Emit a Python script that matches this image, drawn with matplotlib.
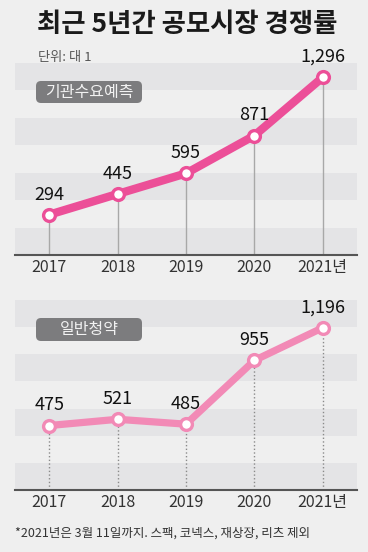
import matplotlib
matplotlib.use("Agg")
import matplotlib.pyplot as plt
from matplotlib.patches import FancyBboxPatch

plt.rcParams['font.family'] = ['Noto Sans CJK KR', 'DejaVu Sans']

years = ["2017", "2018", "2019", "2020", "2021년"]
institutional = [294, 445, 595, 871, 1296]
general = [475, 521, 485, 955, 1196]
title = "최근 5년간 공모시장 경쟁률"
unit = "단위: 대 1"
label_top = "기관수요예측"
label_bottom = "일반청약"
note = "*2021년은 3월 11일까지. 스팩, 코넥스, 재상장, 리츠 제외"

W, H = 368, 552
BG = "#efefef"
BAND = "#e4e4e6"
fig = plt.figure(figsize=(W / 100, H / 100), dpi=100, facecolor=BG)

def px_axes(left, top, right, bottom):
    return fig.add_axes([left / W, 1 - bottom / H, (right - left) / W, (bottom - top) / H])

def panel(top, bottom, values, color, lw, vstyle, vcolor):
    ax = px_axes(15, top, 357, bottom)
    ax.set_facecolor(BG)
    x = list(range(len(values)))
    ax.set_xlim(-0.5, len(values) - 0.5)
    ax.set_ylim(0, 1400)
    for i, y0 in enumerate(range(0, 1400, 200)):
        if i % 2 == 0:
            ax.axhspan(y0, y0 + 200, color=BAND, lw=0, zorder=0)
    for xi, v in zip(x, values):
        ax.plot([xi, xi], [0, v], color=vcolor, lw=1, ls=vstyle, zorder=1)
    ax.plot(x, values, color=color, lw=lw, solid_capstyle='round', zorder=2)
    ax.plot(x, values, 'o', ms=8.5, mfc='white', mec=color, mew=2.4, zorder=3)
    for xi, v in zip(x, values):
        ax.annotate(f"{v:,}", (xi, v), xytext=(0, 14.5), textcoords='offset points',
                    ha='center', va='center', fontsize=13, color='#111111')
    ax.spines[['top', 'right', 'left']].set_visible(False)
    ax.spines['bottom'].set_color('#555555')
    ax.spines['bottom'].set_linewidth(1.5)
    ax.set_yticks([])
    ax.set_xticks(x)
    ax.set_xticklabels(years, fontsize=11.5, color='#333333')
    ax.tick_params(axis='x', length=0, pad=3)
    return ax

panel(63, 255, institutional, "#ec4f98", 6.0, '-', '#a8a8a8')
panel(300, 490, general, "#f28ab6", 5.2, ':', '#8a8a8a')

ov = fig.add_axes([0, 0, 1, 1])
ov.set_xlim(0, W)
ov.set_ylim(H, 0)
ov.axis('off')
ov.patch.set_alpha(0)

ov.text(37, 25, title, fontsize=19, fontweight='bold', color='#1a1a1a', ha='left', va='center')
ov.text(38, 57, unit, fontsize=9.5, color='#555555', ha='left', va='center')

for (y0, y1, txt) in [(80, 104, label_top), (317, 342, label_bottom)]:
    box = FancyBboxPatch((36, y0 + 1), 106, (y1 - y0) - 2,
                         boxstyle="round,pad=0,rounding_size=5",
                         fc="#7c7c7e", ec='none')
    ov.add_patch(box)
    ov.text(89, (y0 + y1) / 2, txt, fontsize=11.5, color='#f2f2f2', ha='center', va='center')

ov.text(15, 533, note, fontsize=9, color='#333333', ha='left', va='center')

fig.savefig("out.png", dpi=100, facecolor=BG)
